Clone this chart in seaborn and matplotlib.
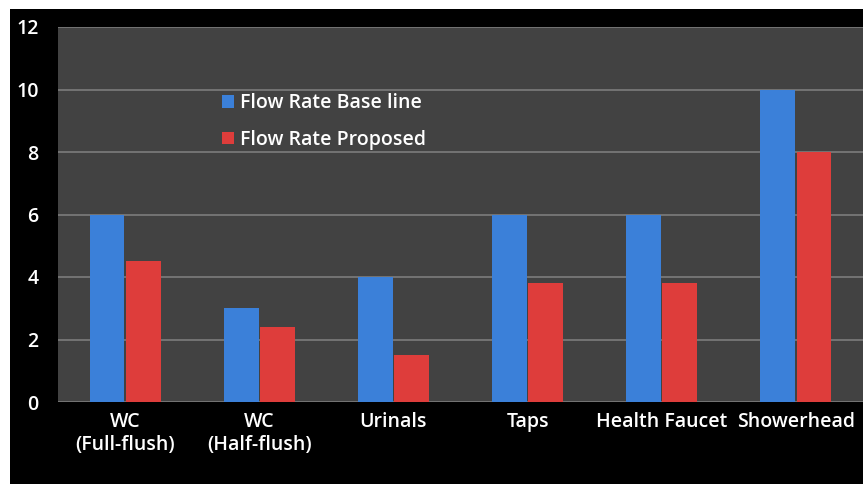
import numpy as np
import pandas as pd
import seaborn as sns
import matplotlib.pyplot as plt
from matplotlib.patches import Rectangle

categories = ["WC\n(Full-flush)", "WC\n(Half-flush)", "Urinals", "Taps", "Health Faucet", "Showerhead"]
baseline = [6, 3, 4, 6, 6, 10]
proposed = [4.5, 2.4, 1.5, 3.8, 3.8, 8]
series = ["Flow Rate Base line", "Flow Rate Proposed"]

df = pd.DataFrame({
    "category": categories * 2,
    "value": baseline + proposed,
    "series": [series[0]] * len(categories) + [series[1]] * len(categories),
})

sns.set_style("dark")
plt.rcParams['font.family'] = ['Open Sans', 'DejaVu Sans']

fig = plt.figure(figsize=(8.63, 4.84), dpi=100)
fig.patch.set_facecolor("white")
# black frame background, offset like the screenshot
fig.patches.append(Rectangle((10 / 863, 0), 1, 1 - 9 / 484, transform=fig.transFigure,
                             facecolor="black", edgecolor="none", zorder=-5))

ax = fig.add_axes([58 / 863, 82 / 484, 805 / 863, 375 / 484])
ax.set_facecolor("#424242")

g = sns.barplot(
    data=df, x="category", y="value", hue="series",
    palette=["#3b80d9", "#de3d3b"], width=0.54, gap=0.04,
    saturation=1, ax=ax, zorder=3, linewidth=0, edgecolor="none",
)

ax.set_ylim(0, 12)
ax.set_yticks(range(0, 13, 2))
ax.yaxis.grid(True, color="#7c7c7c", linewidth=1.2, zorder=0)
ax.set_axisbelow(True)
for s in ax.spines.values():
    s.set_visible(False)

ax.tick_params(axis="both", colors="white", length=0, labelsize=14)
ax.tick_params(axis="y", pad=14)
ax.tick_params(axis="x", pad=7)
for lbl in ax.get_xticklabels() + ax.get_yticklabels():
    lbl.set_fontweight("semibold")
ax.set_xlabel("")
ax.set_ylabel("")

leg = ax.legend(loc="upper left", bbox_to_anchor=(0.182, 0.87), frameon=False,
                handlelength=0.6, handleheight=0.6, handletextpad=0.35,
                labelspacing=0.85, fontsize=14)
for t in leg.get_texts():
    t.set_color("white")
    t.set_fontweight("semibold")

plt.savefig("out.png", dpi=100, facecolor=fig.get_facecolor())
